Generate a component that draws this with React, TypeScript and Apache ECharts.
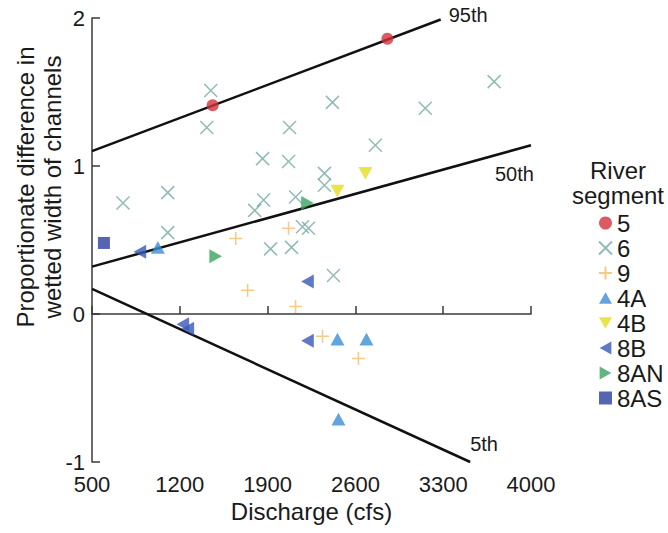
import React, { useEffect, useRef } from "react";
import * as echarts from "echarts";

const xTicks = [500, 1200, 1900, 2600, 3300, 4000];
const yTicks = [-1, 0, 1, 2];

const seg5 = [[1462, 1.41], [2855, 1.86]];
const seg6 = [
  [1447, 1.51], [1415, 1.26], [2075, 1.26], [1860, 1.05], [2067, 1.03],
  [2417, 1.43], [3157, 1.39], [3706, 1.57], [2759, 1.14], [747, 0.75],
  [1104, 0.82], [1104, 0.55], [1797, 0.70], [1868, 0.77], [2123, 0.79],
  [1924, 0.44], [2091, 0.45], [2178, 0.59], [2226, 0.58], [2353, 0.95],
  [2353, 0.87], [2425, 0.26],
];
const seg9 = [[1646, 0.51], [2067, 0.58], [1741, 0.16], [2123, 0.05], [2338, -0.15], [2624, -0.30]];
const seg4A = [[1025, 0.45], [2457, -0.17], [2688, -0.17], [2465, -0.71]];
const seg4B = [[2680, 0.95], [2457, 0.83]];
const seg8B = [[882, 0.42], [2218, 0.22], [2218, -0.18], [1224, -0.07], [1264, -0.10]];
const seg8AN = [[1486, 0.39], [2218, 0.75]];
const seg8AS = [[595, 0.48]];

const p95 = [[500, 1.10], [3280, 1.99]];
const p50 = [[500, 0.32], [4000, 1.14]];
const p05 = [[500, 0.17], [3515, -1]];

const FONT = '"Liberation Sans", Arial, sans-serif';
const AXIS = "#3a3a3a";
const TXT = "#1a1a1a";

const CROSS = "path://M0,0L10,10M10,0L0,10";
const PLUS = "path://M5,0L5,10M0,5L10,5";
const TRI_UP = "path://M5,0L10,9L0,9Z";
const TRI_DOWN = "path://M0,0L10,0L5,9Z";
const TRI_LEFT = "path://M0,5L9,0L9,10Z";
const TRI_RIGHT = "path://M0,0L9,5L0,10Z";

export default function App() {
  const ref = useRef<HTMLDivElement>(null);
  useEffect(() => {
    if (!ref.current) return;
    const chart = echarts.init(ref.current, null, { renderer: "svg" });
    const pctLine = (name: string, data: number[][], offset: number[]) => ({
      type: "line",
      name,
      data,
      showSymbol: false,
      symbol: "none",
      lineStyle: { color: "#111", width: 2.5 },
      endLabel: {
        show: true,
        formatter: name,
        color: TXT,
        fontSize: 20,
        fontFamily: FONT,
        distance: 5,
        offset,
      },
      silent: true,
      z: 1,
    });
    const scatter = (name: string, data: number[][], symbol: string, color: string, size: number, stroke = false) => ({
      type: "scatter",
      name,
      data,
      symbol,
      symbolSize: size,
      symbolKeepAspect: true,
      itemStyle: stroke
        ? { color: "rgba(0,0,0,0)", borderColor: color, borderWidth: 1.5 }
        : { color },
      z: 3,
    });
    const txt = (text: string, x: number, y: number, rotation = 0) => ({
      type: "text",
      x,
      y,
      rotation,
      style: { text, fill: TXT, fontSize: 24, fontFamily: FONT, textAlign: "center", textVerticalAlign: "middle" },
    });
    chart.setOption({
      animation: false,
      backgroundColor: "#ffffff",
      grid: { left: 92, right: 137, top: 18, bottom: 71 },
      xAxis: {
        type: "value",
        min: 500,
        max: 4000,
        splitLine: { show: false },
        axisLine: { lineStyle: { color: AXIS, width: 1.5 } },
        axisTick: { inside: true, length: 8, customValues: xTicks, lineStyle: { color: AXIS, width: 1.5 } },
        axisLabel: { customValues: xTicks, formatter: (v: number) => String(v), color: TXT, fontSize: 22, fontFamily: FONT, margin: 11 },
        name: "Discharge (cfs)",
        nameLocation: "middle",
        nameGap: 37,
        nameTextStyle: { color: TXT, fontSize: 24, fontFamily: FONT },
      },
      yAxis: {
        type: "value",
        min: -1,
        max: 2,
        interval: 1,
        splitLine: { show: false },
        axisLine: { show: true, lineStyle: { color: AXIS, width: 1.5 } },
        axisTick: { show: true, inside: true, length: 8, customValues: yTicks, lineStyle: { color: AXIS, width: 1.5 } },
        axisLabel: { customValues: yTicks, formatter: (v: number) => String(v), color: TXT, fontSize: 22, fontFamily: FONT, margin: 7 },
      },
      legend: {
        orient: "vertical",
        left: 593,
        top: 206,
        itemWidth: 13,
        itemHeight: 13,
        itemGap: 1,
        textStyle: { color: TXT, fontSize: 24, fontFamily: FONT },
        data: ["5", "6", "9", "4A", "4B", "8B", "8AN", "8AS"],
      },
      graphic: [
        txt("River", 618, 170),
        txt("segment", 618, 195),
        txt("Proportionate difference in", 25, 187, Math.PI / 2),
        txt("wetted width of channels", 52, 187, Math.PI / 2),
      ],
      series: [
        pctLine("95th", p95, [3, -4]),
        pctLine("50th", p50, [-41, 29]),
        pctLine("5th", p05, [-5, -18]),
        scatter("5", seg5, "circle", "#d3313b", 12),
        scatter("6", seg6, CROSS, "#74aaa4", 13, true),
        scatter("9", seg9, PLUS, "#f3bd6a", 13, true),
        scatter("4A", seg4A, TRI_UP, "#3b8fd6", 14),
        scatter("4B", seg4B, TRI_DOWN, "#e2df1e", 14),
        scatter("8B", seg8B, TRI_LEFT, "#3858b8", 14),
        scatter("8AN", seg8AN, TRI_RIGHT, "#3aa35e", 14),
        scatter("8AS", seg8AS, "rect", "#2b3f9e", 12),
      ],
    });
    return () => chart.dispose();
  }, []);
  return <div ref={ref} style={{ position: "fixed", left: 0, top: 0, width: 668, height: 533 }} />;
}
